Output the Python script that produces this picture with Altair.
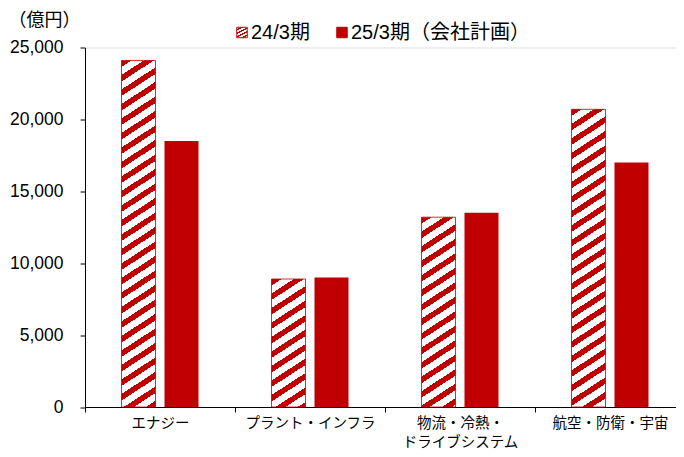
import altair as alt
import pandas as pd

# ---- data ----
categories = ["エナジー", "プラント・インフラ", "物流・冷熱・ドライブシステム", "航空・防衛・宇宙"]
series = ["24/3期", "25/3期（会社計画）"]
values_fy24 = [24100, 8900, 13200, 20700]
values_fy25 = [18500, 9000, 13500, 17000]
y_ticks = [0, 5000, 10000, 15000, 20000, 25000]

RED = "#C00000"
WHITE = "#FFFFFF"
FONT = "Liberation Sans, Noto Sans CJK JP"

PLOT_W = 591
X_RANGE = 600
PLOT_H = 359.5
Y_MAX = 25000
BAR_W = 34
STEP = X_RANGE / len(categories)
STEP2 = 43.0
PI2 = (STEP2 - BAR_W) / STEP2
PO2 = (STEP / STEP2 - 2 + PI2) / 2

STRIPE_PERIOD = 14.5
STRIPE_SLOPE = 0.65
RED_FRAC = 0.45


def stripe_gradient(w, h, period, slope, frac):
    a = slope * w
    b = h
    k = (a + b) / (a * a + b * b)
    n = (a + b) / period
    stops = []
    i = 0
    while i < n:
        o0 = i / n
        o1 = min((i + frac) / n, 1.0)
        o2 = min((i + 1) / n, 1.0)
        stops += [
            {"offset": o0, "color": RED},
            {"offset": o1, "color": RED},
            {"offset": o1, "color": WHITE},
            {"offset": o2, "color": WHITE},
        ]
        i += 1
    return {"gradient": "linear", "x1": 0, "y1": 0, "x2": k * a, "y2": k * b, "stops": stops}


legend_stops = [(0, RED), (0.42, RED), (0.42, WHITE), (1, WHITE)]
legend_grad_expr = (
    "{gradient: 'linear', x1: 0, y1: 0, x2: 1, y2: 1, stops: ["
    + ", ".join("{offset: %s, color: '%s'}" % (o, c) for o, c in legend_stops)
    + "]}"
)

rows = []
for c, v1, v2 in zip(categories, values_fy24, values_fy25):
    rows.append({"category": c, "series": series[0], "value": v1})
    rows.append({"category": c, "series": series[1], "value": v2})
df = pd.DataFrame(rows)

x_enc = alt.X(
    "category:N",
    sort=categories,
    scale=alt.Scale(domain=categories, range=[0, X_RANGE], paddingInner=0, paddingOuter=0),
    axis=alt.Axis(
        title=None, labelAngle=0, tickBand="extent", tickSize=5, tickColor="black",
        domainColor="black", labelColor="black", labelFontSize=14.5, labelPadding=4,
        labelLineHeight=19, labelFont=FONT, labelLimit=300,
        labelExpr="datum.label == '物流・冷熱・ドライブシステム' ? ['物流・冷熱・', 'ドライブシステム'] : datum.label",
    ),
)
xo_enc = alt.XOffset(
    "series:N",
    scale=alt.Scale(domain=series, paddingInner=PI2, paddingOuter=PO2),
)
y_enc = alt.Y(
    "value:Q",
    scale=alt.Scale(domain=[0, Y_MAX], nice=False),
    axis=alt.Axis(
        values=y_ticks, format=",d", title="（億円）", titleAngle=0, titleAlign="left",
        titleBaseline="middle", titleX=-77, titleY=-27.5, titleFontSize=18,
        titleFontWeight="normal", titleColor="black", titleFont=FONT,
        tickSize=5, tickColor="black", domainColor="black", labelColor="black",
        labelFontSize=17.5, labelPadding=17, labelFont=FONT, grid=False,
    ),
)

legend_common = dict(
    orient="none", direction="horizontal", title=None, symbolType="square",
    symbolSize=110, labelFontSize=20, labelFont=FONT, labelColor="black",
    labelOffset=alt.ExprRef("-1"), labelLimit=400, symbolStrokeColor=RED,
    symbolStrokeWidth=1, symbolOpacity=1,
)

layers = []
solid = (
    alt.Chart(df)
    .transform_filter(alt.datum.series == series[1])
    .mark_bar()
    .encode(
        x=x_enc, xOffset=xo_enc, y=y_enc,
        color=alt.Color(
            "series:N",
            scale=alt.Scale(domain=[series[1]], range=[RED]),
            legend=alt.Legend(legendX=247, legendY=-25, symbolFillColor=RED, **legend_common),
        ),
    )
)
layers.append(solid)

for c, v in zip(categories, values_fy24):
    h = v * PLOT_H / Y_MAX
    grad = stripe_gradient(BAR_W, h, STRIPE_PERIOD, STRIPE_SLOPE, RED_FRAC)
    layer = (
        alt.Chart(df)
        .transform_filter((alt.datum.series == series[0]) & (alt.datum.category == c))
        .mark_bar(fill=grad, strokeWidth=1, strokeOpacity=0.8)
        .encode(
            x=x_enc, xOffset=xo_enc, y=y_enc,
            stroke=alt.Stroke(
                "series:N",
                scale=alt.Scale(domain=[series[0]], range=[RED]),
                legend=alt.Legend(legendX=147, legendY=-25,
                                  symbolFillColor=alt.ExprRef(legend_grad_expr),
                                  **legend_common),
            ),
        )
    )
    layers.append(layer)

chart = (
    alt.layer(*layers)
    .properties(
        width=PLOT_W, height=PLOT_H,
        autosize=alt.AutoSizeParams(type="none"),
        padding={"left": 77, "top": 39.5, "right": 0, "bottom": 42},
    )
    .configure_view(stroke=None)
    .configure(font=FONT)
)

chart.save("out.html", embed_options={"renderer": "svg", "actions": False})
